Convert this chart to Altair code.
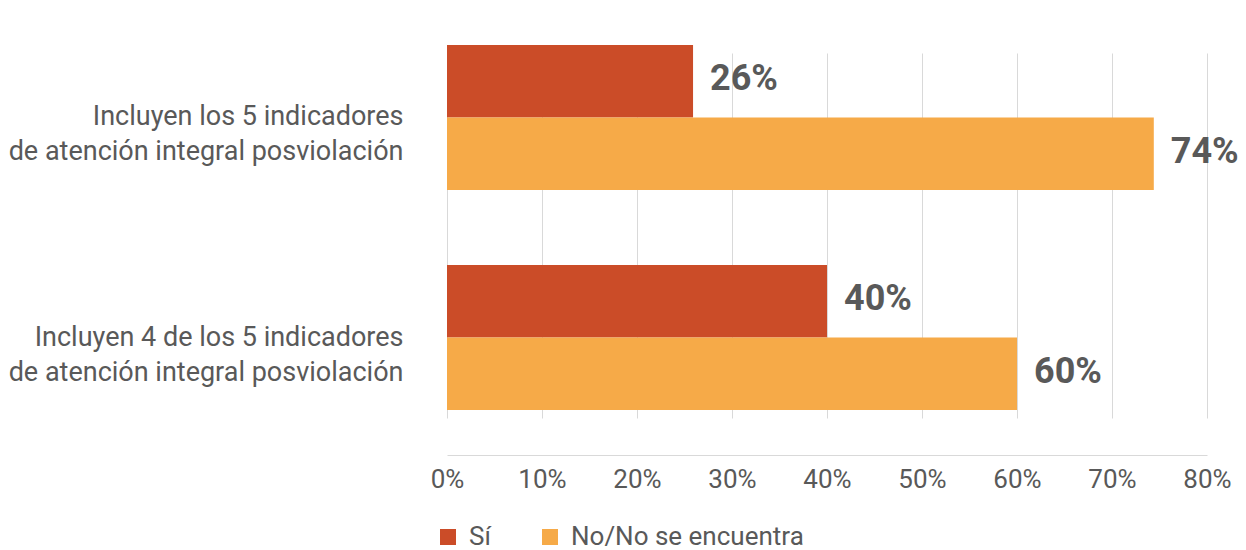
import altair as alt
import pandas as pd

categories = [
    "Incluyen los 5 indicadores|de atención integral posviolación",
    "Incluyen 4 de los 5 indicadores|de atención integral posviolación",
]
series = ["Sí", "No/No se encuentra"]
si_values = [25.9, 40.0]
no_values = [74.4, 60.0]
x_ticks = [0, 10, 20, 30, 40, 50, 60, 70, 80]
colors = ["#CB4C28", "#F6AA48"]

rows = []
for i, c in enumerate(categories):
    rows.append({"cat": c, "series": series[0], "value": si_values[i]})
    rows.append({"cat": c, "series": series[1], "value": no_values[i]})
df = pd.DataFrame(rows)

FONT = "Roboto"
GRAY = "#595959"

base = alt.Chart(df).encode(
    x=alt.X(
        "value:Q",
        scale=alt.Scale(domain=[0, 80], nice=False, zero=True),
        axis=alt.Axis(
            values=x_ticks,
            labelExpr="datum.value + '%'",
            grid=True,
            gridColor="#D9D9D9",
            gridWidth=1,
            domainColor="#D9D9D9",
            domainWidth=1,
            ticks=False,
            labelFontSize=26,
            labelColor=GRAY,
            labelFont=FONT,
            labelPadding=11,
            labelFlush=False,
            title=None,
        ),
    ),
    y=alt.Y(
        "cat:N",
        sort=categories,
        scale=alt.Scale(range=[37, 402], paddingInner=0.341, paddingOuter=0),
        axis=alt.Axis(
            title=None,
            domain=False,
            ticks=False,
            grid=False,
            labelExpr="split(datum.label, '|')",
            labelFontSize=27,
            labelColor=GRAY,
            labelFont=FONT,
            labelPadding=44,
            labelLineHeight=35,
            labelOffset=0,
            labelLimit=600,
        ),
    ),
    yOffset=alt.YOffset("series:N", sort=series, scale=alt.Scale(paddingInner=0, paddingOuter=0)),
)

bars = base.mark_bar().encode(
    color=alt.Color(
        "series:N",
        sort=series,
        scale=alt.Scale(domain=series, range=colors),
        legend=alt.Legend(
            orient="none",
            legendX=-12,
            legendY=516,
            direction="horizontal",
            title=None,
            symbolType="square",
            symbolSize=256,
            symbolStrokeWidth=0,
            labelFontSize=26,
            labelColor=GRAY,
            labelFont=FONT,
            labelOffset=8,
            labelLimit=500,
            columnPadding=46,
        ),
    )
)

labels = base.mark_text(
    align="left",
    baseline="middle",
    dx=17,
    dy=-2,
    fontSize=36,
    fontWeight="bold",
    font=FONT,
    color=GRAY,
).transform_calculate(
    lab="format(datum.value, '.0f') + '%'"
).encode(text="lab:N")

chart = (
    alt.layer(bars, labels)
    .properties(
        width=760,
        height=447,
        autosize=alt.AutoSizeParams(type="none"),
        padding={"left": 439, "top": 0, "right": 31, "bottom": 100},
    )
    .configure_view(strokeWidth=0)
)

chart.save("out.html", embed_options={"renderer": "svg", "actions": False})
